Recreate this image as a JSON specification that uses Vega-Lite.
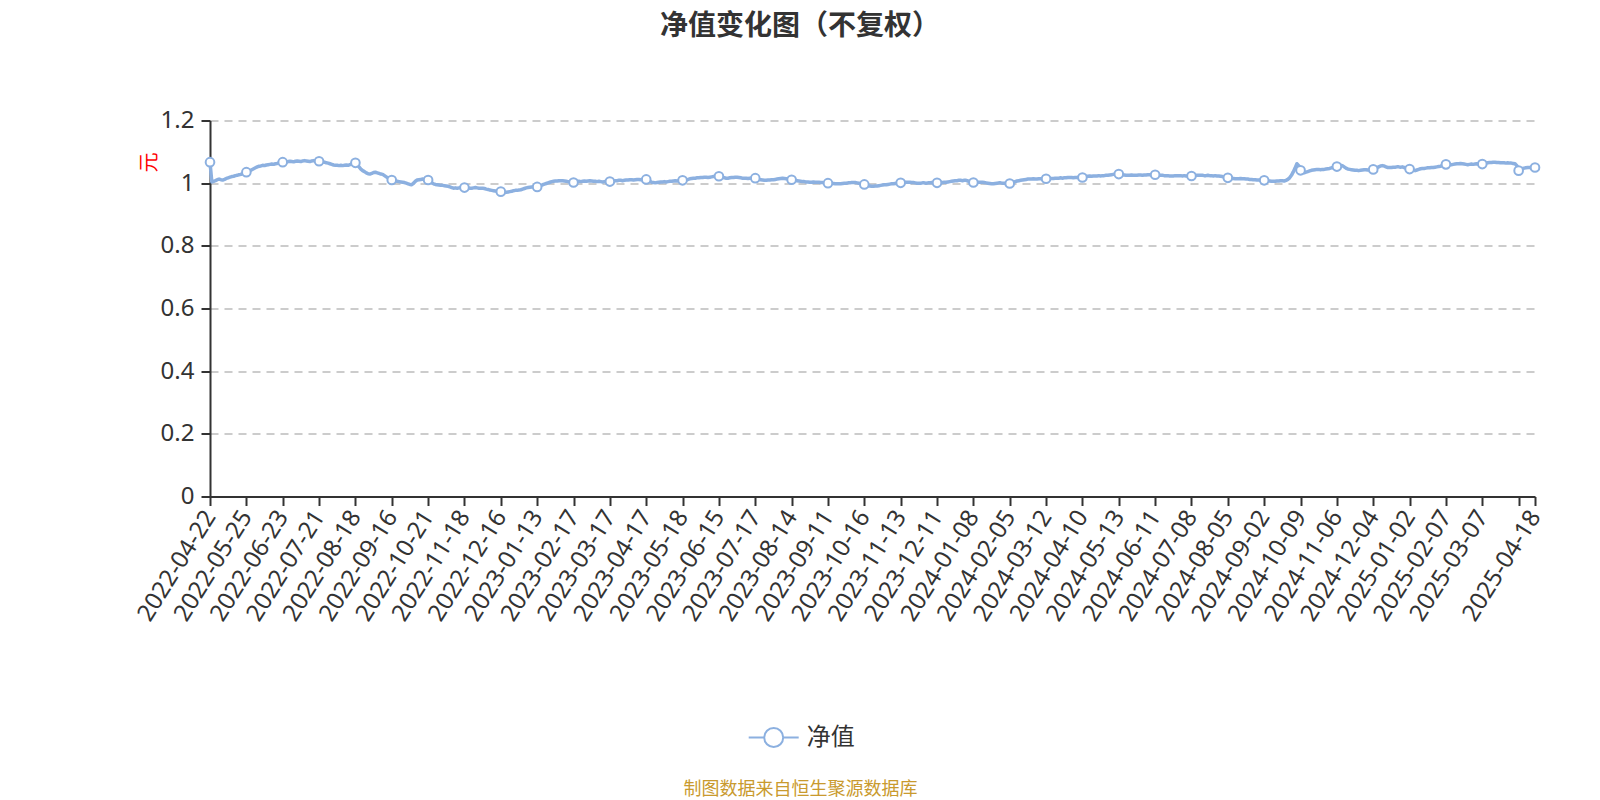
{
  "$schema": "https://vega.github.io/schema/vega-lite/v6.json",
  "autosize": {"type": "none"},
  "width": 1325,
  "height": 376,
  "padding": {"left": 210, "top": 120.5, "right": 65, "bottom": 303.5},
  "background": "#ffffff",
  "title": {
    "text": "净值变化图（不复权）",
    "frame": "group",
    "anchor": "middle",
    "dx": -72.5,
    "offset": 46,
    "baseline": "alphabetic",
    "font": "Noto Sans CJK SC",
    "fontSize": 28,
    "fontWeight": "bold",
    "color": "#333333"
  },
  "config": {
    "view": {"stroke": null},
    "font": "Noto Sans, Noto Sans CJK SC"
  },
  "data": {
    "values": [
      {"date":"2022-04-22","nav":1.067},{"date":"2022-04-25","nav":1.004},{"date":"2022-04-26","nav":1.006},{"date":"2022-04-27","nav":1.008},{"date":"2022-04-28","nav":1.011},{"date":"2022-04-29","nav":1.013},
      {"date":"2022-05-05","nav":1.011},{"date":"2022-05-06","nav":1.010},{"date":"2022-05-09","nav":1.012},{"date":"2022-05-10","nav":1.015},{"date":"2022-05-11","nav":1.017},{"date":"2022-05-12","nav":1.019},{"date":"2022-05-13","nav":1.021},{"date":"2022-05-16","nav":1.022},{"date":"2022-05-17","nav":1.024},{"date":"2022-05-18","nav":1.025},{"date":"2022-05-19","nav":1.027},{"date":"2022-05-20","nav":1.028},{"date":"2022-05-23","nav":1.031},{"date":"2022-05-24","nav":1.033},{"date":"2022-05-25","nav":1.035},{"date":"2022-05-26","nav":1.037},{"date":"2022-05-27","nav":1.040},{"date":"2022-05-30","nav":1.043},{"date":"2022-05-31","nav":1.046},
      {"date":"2022-06-01","nav":1.049},{"date":"2022-06-02","nav":1.052},{"date":"2022-06-06","nav":1.054},{"date":"2022-06-07","nav":1.055},{"date":"2022-06-08","nav":1.057},{"date":"2022-06-09","nav":1.056},{"date":"2022-06-10","nav":1.058},{"date":"2022-06-13","nav":1.059},{"date":"2022-06-14","nav":1.060},{"date":"2022-06-15","nav":1.061},{"date":"2022-06-16","nav":1.060},{"date":"2022-06-17","nav":1.062},{"date":"2022-06-20","nav":1.063},{"date":"2022-06-21","nav":1.065},{"date":"2022-06-22","nav":1.066},{"date":"2022-06-23","nav":1.067},{"date":"2022-06-24","nav":1.068},{"date":"2022-06-27","nav":1.067},{"date":"2022-06-28","nav":1.069},{"date":"2022-06-29","nav":1.070},{"date":"2022-06-30","nav":1.069},
      {"date":"2022-07-01","nav":1.068},{"date":"2022-07-04","nav":1.070},{"date":"2022-07-05","nav":1.071},{"date":"2022-07-06","nav":1.070},{"date":"2022-07-07","nav":1.069},{"date":"2022-07-08","nav":1.071},{"date":"2022-07-11","nav":1.072},{"date":"2022-07-12","nav":1.071},{"date":"2022-07-13","nav":1.070},{"date":"2022-07-14","nav":1.069},{"date":"2022-07-15","nav":1.071},{"date":"2022-07-18","nav":1.072},{"date":"2022-07-19","nav":1.071},{"date":"2022-07-20","nav":1.070},{"date":"2022-07-21","nav":1.070},{"date":"2022-07-22","nav":1.069},{"date":"2022-07-25","nav":1.068},{"date":"2022-07-26","nav":1.067},{"date":"2022-07-27","nav":1.065},{"date":"2022-07-28","nav":1.064},{"date":"2022-07-29","nav":1.062},
      {"date":"2022-08-01","nav":1.060},{"date":"2022-08-02","nav":1.058},{"date":"2022-08-03","nav":1.057},{"date":"2022-08-04","nav":1.057},{"date":"2022-08-05","nav":1.056},{"date":"2022-08-08","nav":1.057},{"date":"2022-08-09","nav":1.056},{"date":"2022-08-10","nav":1.057},{"date":"2022-08-11","nav":1.058},{"date":"2022-08-12","nav":1.057},{"date":"2022-08-15","nav":1.059},{"date":"2022-08-16","nav":1.061},{"date":"2022-08-17","nav":1.063},{"date":"2022-08-18","nav":1.065},{"date":"2022-08-19","nav":1.060},{"date":"2022-08-22","nav":1.052},{"date":"2022-08-23","nav":1.045},{"date":"2022-08-24","nav":1.040},{"date":"2022-08-25","nav":1.037},{"date":"2022-08-26","nav":1.033},{"date":"2022-08-29","nav":1.030},{"date":"2022-08-30","nav":1.029},{"date":"2022-08-31","nav":1.031},
      {"date":"2022-09-01","nav":1.034},{"date":"2022-09-02","nav":1.035},{"date":"2022-09-05","nav":1.033},{"date":"2022-09-06","nav":1.031},{"date":"2022-09-07","nav":1.029},{"date":"2022-09-08","nav":1.028},{"date":"2022-09-09","nav":1.024},{"date":"2022-09-13","nav":1.020},{"date":"2022-09-14","nav":1.016},{"date":"2022-09-15","nav":1.013},{"date":"2022-09-16","nav":1.010},{"date":"2022-09-19","nav":1.009},{"date":"2022-09-20","nav":1.007},{"date":"2022-09-21","nav":1.006},{"date":"2022-09-22","nav":1.005},{"date":"2022-09-23","nav":1.004},{"date":"2022-09-26","nav":1.003},{"date":"2022-09-27","nav":1.002},{"date":"2022-09-28","nav":1.000},{"date":"2022-09-29","nav":0.998},{"date":"2022-09-30","nav":0.996},
      {"date":"2022-10-10","nav":0.995},{"date":"2022-10-11","nav":1.000},{"date":"2022-10-12","nav":1.006},{"date":"2022-10-13","nav":1.010},{"date":"2022-10-14","nav":1.011},{"date":"2022-10-17","nav":1.012},{"date":"2022-10-18","nav":1.013},{"date":"2022-10-19","nav":1.012},{"date":"2022-10-20","nav":1.011},{"date":"2022-10-21","nav":1.010},{"date":"2022-10-24","nav":1.006},{"date":"2022-10-25","nav":1.001},{"date":"2022-10-26","nav":0.998},{"date":"2022-10-27","nav":0.996},{"date":"2022-10-28","nav":0.995},{"date":"2022-10-31","nav":0.994},
      {"date":"2022-11-01","nav":0.993},{"date":"2022-11-02","nav":0.993},{"date":"2022-11-03","nav":0.992},{"date":"2022-11-04","nav":0.991},{"date":"2022-11-07","nav":0.990},{"date":"2022-11-08","nav":0.988},{"date":"2022-11-09","nav":0.986},{"date":"2022-11-10","nav":0.984},{"date":"2022-11-11","nav":0.985},{"date":"2022-11-14","nav":0.984},{"date":"2022-11-15","nav":0.985},{"date":"2022-11-16","nav":0.986},{"date":"2022-11-17","nav":0.987},{"date":"2022-11-18","nav":0.986},{"date":"2022-11-21","nav":0.985},{"date":"2022-11-22","nav":0.985},{"date":"2022-11-23","nav":0.984},{"date":"2022-11-24","nav":0.984},{"date":"2022-11-25","nav":0.985},{"date":"2022-11-28","nav":0.986},{"date":"2022-11-29","nav":0.985},{"date":"2022-11-30","nav":0.984},
      {"date":"2022-12-01","nav":0.984},{"date":"2022-12-02","nav":0.984},{"date":"2022-12-05","nav":0.983},{"date":"2022-12-06","nav":0.981},{"date":"2022-12-07","nav":0.980},{"date":"2022-12-08","nav":0.978},{"date":"2022-12-09","nav":0.977},{"date":"2022-12-12","nav":0.976},{"date":"2022-12-13","nav":0.975},{"date":"2022-12-14","nav":0.974},{"date":"2022-12-15","nav":0.973},{"date":"2022-12-16","nav":0.973},{"date":"2022-12-19","nav":0.971},{"date":"2022-12-20","nav":0.970},{"date":"2022-12-21","nav":0.971},{"date":"2022-12-22","nav":0.972},{"date":"2022-12-23","nav":0.973},{"date":"2022-12-26","nav":0.974},{"date":"2022-12-27","nav":0.976},{"date":"2022-12-28","nav":0.977},{"date":"2022-12-29","nav":0.977},{"date":"2022-12-30","nav":0.978},{"date":"2022-12-31","nav":0.979},
      {"date":"2023-01-03","nav":0.981},{"date":"2023-01-04","nav":0.983},{"date":"2023-01-05","nav":0.985},{"date":"2023-01-06","nav":0.986},{"date":"2023-01-09","nav":0.987},{"date":"2023-01-10","nav":0.988},{"date":"2023-01-11","nav":0.989},{"date":"2023-01-12","nav":0.988},{"date":"2023-01-13","nav":0.988},{"date":"2023-01-16","nav":0.990},{"date":"2023-01-17","nav":0.992},{"date":"2023-01-18","nav":0.995},{"date":"2023-01-19","nav":0.997},{"date":"2023-01-20","nav":0.999},{"date":"2023-01-30","nav":1.001},{"date":"2023-01-31","nav":1.003},
      {"date":"2023-02-01","nav":1.005},{"date":"2023-02-02","nav":1.006},{"date":"2023-02-03","nav":1.007},{"date":"2023-02-06","nav":1.007},{"date":"2023-02-07","nav":1.008},{"date":"2023-02-08","nav":1.008},{"date":"2023-02-09","nav":1.008},{"date":"2023-02-10","nav":1.007},{"date":"2023-02-13","nav":1.006},{"date":"2023-02-14","nav":1.005},{"date":"2023-02-15","nav":1.004},{"date":"2023-02-16","nav":1.003},{"date":"2023-02-17","nav":1.002},{"date":"2023-02-20","nav":1.004},{"date":"2023-02-21","nav":1.006},{"date":"2023-02-22","nav":1.006},{"date":"2023-02-23","nav":1.005},{"date":"2023-02-24","nav":1.006},{"date":"2023-02-27","nav":1.007},{"date":"2023-02-28","nav":1.006},
      {"date":"2023-03-01","nav":1.007},{"date":"2023-03-02","nav":1.008},{"date":"2023-03-03","nav":1.007},{"date":"2023-03-06","nav":1.006},{"date":"2023-03-07","nav":1.006},{"date":"2023-03-08","nav":1.005},{"date":"2023-03-09","nav":1.006},{"date":"2023-03-10","nav":1.005},{"date":"2023-03-13","nav":1.004},{"date":"2023-03-14","nav":1.005},{"date":"2023-03-15","nav":1.006},{"date":"2023-03-16","nav":1.005},{"date":"2023-03-17","nav":1.005},{"date":"2023-03-20","nav":1.006},{"date":"2023-03-21","nav":1.007},{"date":"2023-03-22","nav":1.008},{"date":"2023-03-23","nav":1.008},{"date":"2023-03-24","nav":1.009},{"date":"2023-03-27","nav":1.009},{"date":"2023-03-28","nav":1.008},{"date":"2023-03-29","nav":1.009},{"date":"2023-03-30","nav":1.010},{"date":"2023-03-31","nav":1.010},
      {"date":"2023-04-03","nav":1.011},{"date":"2023-04-04","nav":1.011},{"date":"2023-04-06","nav":1.010},{"date":"2023-04-07","nav":1.011},{"date":"2023-04-10","nav":1.012},{"date":"2023-04-11","nav":1.012},{"date":"2023-04-12","nav":1.011},{"date":"2023-04-13","nav":1.012},{"date":"2023-04-14","nav":1.013},{"date":"2023-04-17","nav":1.012},{"date":"2023-04-18","nav":1.009},{"date":"2023-04-19","nav":1.006},{"date":"2023-04-20","nav":1.003},{"date":"2023-04-21","nav":1.002},{"date":"2023-04-24","nav":1.001},{"date":"2023-04-25","nav":1.002},{"date":"2023-04-26","nav":1.003},{"date":"2023-04-27","nav":1.004},{"date":"2023-04-28","nav":1.004},
      {"date":"2023-05-04","nav":1.005},{"date":"2023-05-05","nav":1.004},{"date":"2023-05-08","nav":1.005},{"date":"2023-05-09","nav":1.006},{"date":"2023-05-10","nav":1.006},{"date":"2023-05-11","nav":1.007},{"date":"2023-05-12","nav":1.008},{"date":"2023-05-15","nav":1.007},{"date":"2023-05-16","nav":1.008},{"date":"2023-05-17","nav":1.009},{"date":"2023-05-18","nav":1.009},{"date":"2023-05-19","nav":1.010},{"date":"2023-05-22","nav":1.011},{"date":"2023-05-23","nav":1.012},{"date":"2023-05-24","nav":1.014},{"date":"2023-05-25","nav":1.015},{"date":"2023-05-26","nav":1.016},{"date":"2023-05-29","nav":1.016},{"date":"2023-05-30","nav":1.017},{"date":"2023-05-31","nav":1.017},
      {"date":"2023-06-01","nav":1.018},{"date":"2023-06-02","nav":1.018},{"date":"2023-06-05","nav":1.019},{"date":"2023-06-06","nav":1.019},{"date":"2023-06-07","nav":1.018},{"date":"2023-06-08","nav":1.019},{"date":"2023-06-09","nav":1.020},{"date":"2023-06-12","nav":1.021},{"date":"2023-06-13","nav":1.021},{"date":"2023-06-14","nav":1.022},{"date":"2023-06-15","nav":1.022},{"date":"2023-06-16","nav":1.020},{"date":"2023-06-19","nav":1.018},{"date":"2023-06-20","nav":1.017},{"date":"2023-06-21","nav":1.016},{"date":"2023-06-26","nav":1.016},{"date":"2023-06-27","nav":1.017},{"date":"2023-06-28","nav":1.018},{"date":"2023-06-29","nav":1.018},{"date":"2023-06-30","nav":1.019},
      {"date":"2023-07-03","nav":1.019},{"date":"2023-07-04","nav":1.018},{"date":"2023-07-05","nav":1.017},{"date":"2023-07-06","nav":1.016},{"date":"2023-07-07","nav":1.016},{"date":"2023-07-10","nav":1.016},{"date":"2023-07-11","nav":1.015},{"date":"2023-07-12","nav":1.016},{"date":"2023-07-13","nav":1.016},{"date":"2023-07-14","nav":1.017},{"date":"2023-07-17","nav":1.016},{"date":"2023-07-18","nav":1.014},{"date":"2023-07-19","nav":1.012},{"date":"2023-07-20","nav":1.011},{"date":"2023-07-21","nav":1.010},{"date":"2023-07-24","nav":1.009},{"date":"2023-07-25","nav":1.009},{"date":"2023-07-26","nav":1.010},{"date":"2023-07-27","nav":1.010},{"date":"2023-07-28","nav":1.011},{"date":"2023-07-31","nav":1.011},
      {"date":"2023-08-01","nav":1.012},{"date":"2023-08-02","nav":1.013},{"date":"2023-08-03","nav":1.014},{"date":"2023-08-04","nav":1.015},{"date":"2023-08-07","nav":1.016},{"date":"2023-08-08","nav":1.015},{"date":"2023-08-09","nav":1.014},{"date":"2023-08-10","nav":1.013},{"date":"2023-08-11","nav":1.012},{"date":"2023-08-14","nav":1.011},{"date":"2023-08-15","nav":1.010},{"date":"2023-08-16","nav":1.009},{"date":"2023-08-17","nav":1.008},{"date":"2023-08-18","nav":1.007},{"date":"2023-08-21","nav":1.006},{"date":"2023-08-22","nav":1.005},{"date":"2023-08-23","nav":1.005},{"date":"2023-08-24","nav":1.004},{"date":"2023-08-25","nav":1.004},{"date":"2023-08-28","nav":1.003},{"date":"2023-08-29","nav":1.003},{"date":"2023-08-30","nav":1.004},{"date":"2023-08-31","nav":1.003},
      {"date":"2023-09-01","nav":1.003},{"date":"2023-09-04","nav":1.003},{"date":"2023-09-05","nav":1.002},{"date":"2023-09-06","nav":1.002},{"date":"2023-09-07","nav":1.001},{"date":"2023-09-08","nav":1.001},{"date":"2023-09-11","nav":1.000},{"date":"2023-09-12","nav":1.000},{"date":"2023-09-13","nav":0.999},{"date":"2023-09-14","nav":0.999},{"date":"2023-09-15","nav":0.998},{"date":"2023-09-18","nav":0.998},{"date":"2023-09-19","nav":0.998},{"date":"2023-09-20","nav":0.998},{"date":"2023-09-21","nav":0.999},{"date":"2023-09-22","nav":1.000},{"date":"2023-09-25","nav":1.000},{"date":"2023-09-26","nav":1.001},{"date":"2023-09-27","nav":1.001},{"date":"2023-09-28","nav":1.002},{"date":"2023-09-30","nav":1.002},
      {"date":"2023-10-09","nav":1.002},{"date":"2023-10-10","nav":1.001},{"date":"2023-10-11","nav":1.000},{"date":"2023-10-12","nav":0.998},{"date":"2023-10-13","nav":0.997},{"date":"2023-10-16","nav":0.996},{"date":"2023-10-17","nav":0.994},{"date":"2023-10-18","nav":0.992},{"date":"2023-10-19","nav":0.991},{"date":"2023-10-20","nav":0.990},{"date":"2023-10-23","nav":0.990},{"date":"2023-10-24","nav":0.991},{"date":"2023-10-25","nav":0.991},{"date":"2023-10-26","nav":0.992},{"date":"2023-10-27","nav":0.993},{"date":"2023-10-30","nav":0.994},{"date":"2023-10-31","nav":0.995},
      {"date":"2023-11-01","nav":0.995},{"date":"2023-11-02","nav":0.996},{"date":"2023-11-03","nav":0.997},{"date":"2023-11-06","nav":0.998},{"date":"2023-11-07","nav":0.998},{"date":"2023-11-08","nav":0.999},{"date":"2023-11-09","nav":1.000},{"date":"2023-11-10","nav":1.000},{"date":"2023-11-13","nav":1.001},{"date":"2023-11-14","nav":1.002},{"date":"2023-11-15","nav":1.002},{"date":"2023-11-16","nav":1.003},{"date":"2023-11-17","nav":1.003},{"date":"2023-11-20","nav":1.003},{"date":"2023-11-21","nav":1.002},{"date":"2023-11-22","nav":1.002},{"date":"2023-11-23","nav":1.001},{"date":"2023-11-24","nav":1.000},{"date":"2023-11-27","nav":1.000},{"date":"2023-11-28","nav":1.000},{"date":"2023-11-29","nav":1.001},{"date":"2023-11-30","nav":1.001},
      {"date":"2023-12-01","nav":1.000},{"date":"2023-12-04","nav":1.001},{"date":"2023-12-05","nav":1.001},{"date":"2023-12-06","nav":1.002},{"date":"2023-12-07","nav":1.001},{"date":"2023-12-08","nav":1.001},{"date":"2023-12-11","nav":1.001},{"date":"2023-12-12","nav":1.001},{"date":"2023-12-13","nav":1.002},{"date":"2023-12-14","nav":1.002},{"date":"2023-12-15","nav":1.003},{"date":"2023-12-18","nav":1.003},{"date":"2023-12-19","nav":1.004},{"date":"2023-12-20","nav":1.005},{"date":"2023-12-21","nav":1.006},{"date":"2023-12-22","nav":1.007},{"date":"2023-12-25","nav":1.008},{"date":"2023-12-26","nav":1.008},{"date":"2023-12-27","nav":1.009},{"date":"2023-12-28","nav":1.009},{"date":"2023-12-29","nav":1.008},{"date":"2023-12-31","nav":1.009},
      {"date":"2024-01-02","nav":1.009},{"date":"2024-01-03","nav":1.007},{"date":"2024-01-04","nav":1.005},{"date":"2024-01-05","nav":1.003},{"date":"2024-01-08","nav":1.002},{"date":"2024-01-09","nav":1.002},{"date":"2024-01-10","nav":1.003},{"date":"2024-01-11","nav":1.003},{"date":"2024-01-12","nav":1.003},{"date":"2024-01-15","nav":1.003},{"date":"2024-01-16","nav":1.002},{"date":"2024-01-17","nav":1.001},{"date":"2024-01-18","nav":1.000},{"date":"2024-01-19","nav":0.999},{"date":"2024-01-22","nav":0.998},{"date":"2024-01-23","nav":0.998},{"date":"2024-01-24","nav":0.999},{"date":"2024-01-25","nav":1.000},{"date":"2024-01-26","nav":1.001},{"date":"2024-01-29","nav":1.001},{"date":"2024-01-30","nav":1.000},{"date":"2024-01-31","nav":1.000},
      {"date":"2024-02-01","nav":0.999},{"date":"2024-02-02","nav":0.999},{"date":"2024-02-05","nav":0.999},{"date":"2024-02-06","nav":1.001},{"date":"2024-02-07","nav":1.003},{"date":"2024-02-08","nav":1.005},{"date":"2024-02-19","nav":1.007},{"date":"2024-02-20","nav":1.008},{"date":"2024-02-21","nav":1.009},{"date":"2024-02-22","nav":1.010},{"date":"2024-02-23","nav":1.011},{"date":"2024-02-26","nav":1.012},{"date":"2024-02-27","nav":1.013},{"date":"2024-02-28","nav":1.013},{"date":"2024-02-29","nav":1.013},
      {"date":"2024-03-01","nav":1.014},{"date":"2024-03-04","nav":1.013},{"date":"2024-03-05","nav":1.013},{"date":"2024-03-06","nav":1.014},{"date":"2024-03-07","nav":1.014},{"date":"2024-03-08","nav":1.013},{"date":"2024-03-11","nav":1.014},{"date":"2024-03-12","nav":1.014},{"date":"2024-03-13","nav":1.014},{"date":"2024-03-14","nav":1.015},{"date":"2024-03-15","nav":1.015},{"date":"2024-03-18","nav":1.015},{"date":"2024-03-19","nav":1.016},{"date":"2024-03-20","nav":1.016},{"date":"2024-03-21","nav":1.016},{"date":"2024-03-22","nav":1.017},{"date":"2024-03-25","nav":1.016},{"date":"2024-03-26","nav":1.017},{"date":"2024-03-27","nav":1.017},{"date":"2024-03-28","nav":1.018},{"date":"2024-03-29","nav":1.018},{"date":"2024-03-31","nav":1.018},
      {"date":"2024-04-01","nav":1.017},{"date":"2024-04-02","nav":1.018},{"date":"2024-04-03","nav":1.018},{"date":"2024-04-08","nav":1.019},{"date":"2024-04-09","nav":1.018},{"date":"2024-04-10","nav":1.018},{"date":"2024-04-11","nav":1.019},{"date":"2024-04-12","nav":1.021},{"date":"2024-04-15","nav":1.022},{"date":"2024-04-16","nav":1.023},{"date":"2024-04-17","nav":1.022},{"date":"2024-04-18","nav":1.023},{"date":"2024-04-19","nav":1.023},{"date":"2024-04-22","nav":1.023},{"date":"2024-04-23","nav":1.024},{"date":"2024-04-24","nav":1.023},{"date":"2024-04-25","nav":1.024},{"date":"2024-04-26","nav":1.024},{"date":"2024-04-29","nav":1.025},{"date":"2024-04-30","nav":1.025},
      {"date":"2024-05-06","nav":1.026},{"date":"2024-05-07","nav":1.027},{"date":"2024-05-08","nav":1.028},{"date":"2024-05-09","nav":1.029},{"date":"2024-05-10","nav":1.029},{"date":"2024-05-13","nav":1.029},{"date":"2024-05-14","nav":1.028},{"date":"2024-05-15","nav":1.027},{"date":"2024-05-16","nav":1.026},{"date":"2024-05-17","nav":1.025},{"date":"2024-05-20","nav":1.025},{"date":"2024-05-21","nav":1.025},{"date":"2024-05-22","nav":1.026},{"date":"2024-05-23","nav":1.025},{"date":"2024-05-24","nav":1.025},{"date":"2024-05-27","nav":1.025},{"date":"2024-05-28","nav":1.026},{"date":"2024-05-29","nav":1.026},{"date":"2024-05-30","nav":1.025},{"date":"2024-05-31","nav":1.026},
      {"date":"2024-06-03","nav":1.026},{"date":"2024-06-04","nav":1.027},{"date":"2024-06-05","nav":1.027},{"date":"2024-06-06","nav":1.026},{"date":"2024-06-07","nav":1.027},{"date":"2024-06-11","nav":1.027},{"date":"2024-06-12","nav":1.026},{"date":"2024-06-13","nav":1.025},{"date":"2024-06-14","nav":1.025},{"date":"2024-06-17","nav":1.025},{"date":"2024-06-18","nav":1.024},{"date":"2024-06-19","nav":1.024},{"date":"2024-06-20","nav":1.024},{"date":"2024-06-21","nav":1.023},{"date":"2024-06-24","nav":1.023},{"date":"2024-06-25","nav":1.023},{"date":"2024-06-26","nav":1.024},{"date":"2024-06-27","nav":1.024},{"date":"2024-06-28","nav":1.024},{"date":"2024-06-30","nav":1.024},
      {"date":"2024-07-01","nav":1.023},{"date":"2024-07-02","nav":1.024},{"date":"2024-07-03","nav":1.023},{"date":"2024-07-04","nav":1.023},{"date":"2024-07-05","nav":1.023},{"date":"2024-07-08","nav":1.023},{"date":"2024-07-09","nav":1.024},{"date":"2024-07-10","nav":1.024},{"date":"2024-07-11","nav":1.025},{"date":"2024-07-12","nav":1.025},{"date":"2024-07-15","nav":1.025},{"date":"2024-07-16","nav":1.025},{"date":"2024-07-17","nav":1.024},{"date":"2024-07-18","nav":1.024},{"date":"2024-07-19","nav":1.025},{"date":"2024-07-22","nav":1.024},{"date":"2024-07-23","nav":1.024},{"date":"2024-07-24","nav":1.023},{"date":"2024-07-25","nav":1.024},{"date":"2024-07-26","nav":1.023},{"date":"2024-07-29","nav":1.023},{"date":"2024-07-30","nav":1.022},{"date":"2024-07-31","nav":1.021},
      {"date":"2024-08-01","nav":1.019},{"date":"2024-08-02","nav":1.018},{"date":"2024-08-05","nav":1.017},{"date":"2024-08-06","nav":1.016},{"date":"2024-08-07","nav":1.015},{"date":"2024-08-08","nav":1.015},{"date":"2024-08-09","nav":1.014},{"date":"2024-08-12","nav":1.014},{"date":"2024-08-13","nav":1.014},{"date":"2024-08-14","nav":1.015},{"date":"2024-08-15","nav":1.014},{"date":"2024-08-16","nav":1.014},{"date":"2024-08-19","nav":1.013},{"date":"2024-08-20","nav":1.013},{"date":"2024-08-21","nav":1.012},{"date":"2024-08-22","nav":1.012},{"date":"2024-08-23","nav":1.011},{"date":"2024-08-26","nav":1.011},{"date":"2024-08-27","nav":1.010},{"date":"2024-08-28","nav":1.010},{"date":"2024-08-29","nav":1.009},{"date":"2024-08-30","nav":1.009},
      {"date":"2024-09-02","nav":1.009},{"date":"2024-09-03","nav":1.008},{"date":"2024-09-04","nav":1.007},{"date":"2024-09-05","nav":1.007},{"date":"2024-09-06","nav":1.006},{"date":"2024-09-09","nav":1.006},{"date":"2024-09-10","nav":1.006},{"date":"2024-09-11","nav":1.007},{"date":"2024-09-12","nav":1.007},{"date":"2024-09-13","nav":1.008},{"date":"2024-09-18","nav":1.008},{"date":"2024-09-19","nav":1.007},{"date":"2024-09-20","nav":1.009},{"date":"2024-09-23","nav":1.012},{"date":"2024-09-24","nav":1.017},{"date":"2024-09-25","nav":1.025},{"date":"2024-09-26","nav":1.036},{"date":"2024-09-27","nav":1.048},{"date":"2024-09-30","nav":1.062},
      {"date":"2024-10-08","nav":1.056},{"date":"2024-10-09","nav":1.041},{"date":"2024-10-10","nav":1.036},{"date":"2024-10-11","nav":1.033},{"date":"2024-10-14","nav":1.035},{"date":"2024-10-15","nav":1.037},{"date":"2024-10-16","nav":1.039},{"date":"2024-10-17","nav":1.041},{"date":"2024-10-18","nav":1.042},{"date":"2024-10-21","nav":1.043},{"date":"2024-10-22","nav":1.044},{"date":"2024-10-23","nav":1.044},{"date":"2024-10-24","nav":1.043},{"date":"2024-10-25","nav":1.044},{"date":"2024-10-28","nav":1.044},{"date":"2024-10-29","nav":1.045},{"date":"2024-10-30","nav":1.046},{"date":"2024-10-31","nav":1.047},
      {"date":"2024-11-01","nav":1.049},{"date":"2024-11-04","nav":1.050},{"date":"2024-11-05","nav":1.052},{"date":"2024-11-06","nav":1.053},{"date":"2024-11-07","nav":1.055},{"date":"2024-11-08","nav":1.057},{"date":"2024-11-11","nav":1.056},{"date":"2024-11-12","nav":1.052},{"date":"2024-11-13","nav":1.048},{"date":"2024-11-14","nav":1.045},{"date":"2024-11-15","nav":1.044},{"date":"2024-11-18","nav":1.043},{"date":"2024-11-19","nav":1.042},{"date":"2024-11-20","nav":1.041},{"date":"2024-11-21","nav":1.041},{"date":"2024-11-22","nav":1.040},{"date":"2024-11-25","nav":1.041},{"date":"2024-11-26","nav":1.042},{"date":"2024-11-27","nav":1.043},{"date":"2024-11-28","nav":1.043},{"date":"2024-11-29","nav":1.042},
      {"date":"2024-12-02","nav":1.043},{"date":"2024-12-03","nav":1.044},{"date":"2024-12-04","nav":1.044},{"date":"2024-12-05","nav":1.046},{"date":"2024-12-06","nav":1.049},{"date":"2024-12-09","nav":1.052},{"date":"2024-12-10","nav":1.055},{"date":"2024-12-11","nav":1.056},{"date":"2024-12-12","nav":1.055},{"date":"2024-12-13","nav":1.052},{"date":"2024-12-16","nav":1.050},{"date":"2024-12-17","nav":1.050},{"date":"2024-12-18","nav":1.050},{"date":"2024-12-19","nav":1.051},{"date":"2024-12-20","nav":1.051},{"date":"2024-12-23","nav":1.052},{"date":"2024-12-24","nav":1.052},{"date":"2024-12-25","nav":1.051},{"date":"2024-12-26","nav":1.052},{"date":"2024-12-27","nav":1.050},{"date":"2024-12-30","nav":1.048},{"date":"2024-12-31","nav":1.046},
      {"date":"2025-01-02","nav":1.045},{"date":"2025-01-03","nav":1.043},{"date":"2025-01-06","nav":1.041},{"date":"2025-01-07","nav":1.040},{"date":"2025-01-08","nav":1.042},{"date":"2025-01-09","nav":1.044},{"date":"2025-01-10","nav":1.046},{"date":"2025-01-13","nav":1.047},{"date":"2025-01-14","nav":1.047},{"date":"2025-01-15","nav":1.048},{"date":"2025-01-16","nav":1.049},{"date":"2025-01-17","nav":1.049},{"date":"2025-01-20","nav":1.050},{"date":"2025-01-21","nav":1.050},{"date":"2025-01-22","nav":1.051},{"date":"2025-01-23","nav":1.052},{"date":"2025-01-24","nav":1.053},{"date":"2025-01-27","nav":1.054},
      {"date":"2025-02-05","nav":1.056},{"date":"2025-02-06","nav":1.058},{"date":"2025-02-07","nav":1.060},{"date":"2025-02-10","nav":1.060},{"date":"2025-02-11","nav":1.059},{"date":"2025-02-12","nav":1.059},{"date":"2025-02-13","nav":1.060},{"date":"2025-02-14","nav":1.061},{"date":"2025-02-17","nav":1.062},{"date":"2025-02-18","nav":1.062},{"date":"2025-02-19","nav":1.063},{"date":"2025-02-20","nav":1.062},{"date":"2025-02-21","nav":1.061},{"date":"2025-02-24","nav":1.060},{"date":"2025-02-25","nav":1.059},{"date":"2025-02-26","nav":1.060},{"date":"2025-02-27","nav":1.061},{"date":"2025-02-28","nav":1.060},
      {"date":"2025-03-03","nav":1.061},{"date":"2025-03-04","nav":1.062},{"date":"2025-03-05","nav":1.061},{"date":"2025-03-06","nav":1.061},{"date":"2025-03-07","nav":1.061},{"date":"2025-03-10","nav":1.062},{"date":"2025-03-11","nav":1.064},{"date":"2025-03-12","nav":1.065},{"date":"2025-03-13","nav":1.066},{"date":"2025-03-14","nav":1.066},{"date":"2025-03-17","nav":1.067},{"date":"2025-03-18","nav":1.067},{"date":"2025-03-19","nav":1.066},{"date":"2025-03-20","nav":1.066},{"date":"2025-03-21","nav":1.065},{"date":"2025-03-24","nav":1.065},{"date":"2025-03-25","nav":1.065},{"date":"2025-03-26","nav":1.064},{"date":"2025-03-27","nav":1.065},{"date":"2025-03-28","nav":1.064},{"date":"2025-03-31","nav":1.064},
      {"date":"2025-04-01","nav":1.063},{"date":"2025-04-02","nav":1.062},{"date":"2025-04-03","nav":1.056},{"date":"2025-04-07","nav":1.040},{"date":"2025-04-08","nav":1.044},{"date":"2025-04-09","nav":1.046},{"date":"2025-04-10","nav":1.048},{"date":"2025-04-11","nav":1.049},{"date":"2025-04-14","nav":1.050},{"date":"2025-04-15","nav":1.050},{"date":"2025-04-16","nav":1.049},{"date":"2025-04-17","nav":1.050},{"date":"2025-04-18","nav":1.050}
    ]
  },
  "encoding": {
    "x": {
      "field": "date",
      "type": "ordinal",
      "scale": {"type": "point", "padding": 0},
      "axis": {
        "title": "制图数据来自恒生聚源数据库",
        "titleFont": "Noto Sans CJK SC",
        "titleFontSize": 18,
        "titleFontWeight": "normal",
        "titleColor": "#c99a2e",
        "titleAlign": "center",
        "titleBaseline": "middle",
        "titleX": 590,
        "titleY": 292.5,
        "values": ["2022-04-22","2022-05-25","2022-06-23","2022-07-21","2022-08-18","2022-09-16","2022-10-21","2022-11-18","2022-12-16","2023-01-13","2023-02-17","2023-03-17","2023-04-17","2023-05-18","2023-06-15","2023-07-17","2023-08-14","2023-09-11","2023-10-16","2023-11-13","2023-12-11","2024-01-08","2024-02-05","2024-03-12","2024-04-10","2024-05-13","2024-06-11","2024-07-08","2024-08-05","2024-09-02","2024-10-09","2024-11-06","2024-12-04","2025-01-02","2025-02-07","2025-03-07","2025-04-07","2025-04-18"],
        "labelExpr": "datum.value == '2025-04-07' ? '' : datum.label",
        "labelAngle": -58,
        "labelAlign": "right",
        "labelBaseline": "middle",
        "labelFontSize": 24,
        "labelColor": "#333333",
        "labelOverlap": false,
        "labelPadding": 7,
        "tickSize": 9,
        "tickWidth": 2,
        "tickColor": "#333333",
        "domainColor": "#333333",
        "domainWidth": 2,
        "grid": false
      }
    },
    "y": {
      "field": "nav",
      "type": "quantitative",
      "scale": {"domain": [0, 1.2], "nice": false},
      "axis": {
        "title": "元",
        "titleFont": "Noto Sans CJK SC",
        "titleFontSize": 20,
        "titleFontWeight": "normal",
        "titleColor": "#ff0000",
        "titleAngle": -90,
        "titleAlign": "center",
        "titleBaseline": "middle",
        "titleX": -61,
        "titleY": 41.5,
        "values": [0, 0.2, 0.4, 0.6, 0.8, 1, 1.2],
        "format": ".1~f",
        "labelFontSize": 24,
        "labelColor": "#333333",
        "labelPadding": 7,
        "tickSize": 9,
        "tickWidth": 2,
        "tickColor": "#333333",
        "domainColor": "#333333",
        "domainWidth": 2,
        "grid": true,
        "gridColor": "#cccccc",
        "gridWidth": 2,
        "gridDash": [8, 6]
      }
    }
  },
  "layer": [
    {
      "mark": {"type": "line", "strokeWidth": 3.5, "strokeJoin": "round"},
      "encoding": {
        "color": {
          "datum": "净值",
          "scale": {"range": ["#8cb0e0"]},
          "legend": {
            "title": null,
            "orient": "none",
            "legendX": 551.7,
            "legendY": 605,
            "padding": 0,
            "symbolType": "M-2.5,0H-0.95M0.95,0H2.5M-0.95,0A0.95,0.95,0,1,0,0.95,0A0.95,0.95,0,1,0,-0.95,0Z",
            "symbolSize": 400,
            "symbolStrokeWidth": 2,
            "symbolFillColor": "#ffffff",
            "labelFont": "Noto Sans CJK SC",
            "labelFontSize": 24,
            "labelColor": "#333333",
            "labelOffset": 21
          }
        }
      }
    },
    {
      "transform": [
        {"filter": {"field": "date", "oneOf": ["2022-04-22","2022-05-25","2022-06-23","2022-07-21","2022-08-18","2022-09-16","2022-10-21","2022-11-18","2022-12-16","2023-01-13","2023-02-17","2023-03-17","2023-04-17","2023-05-18","2023-06-15","2023-07-17","2023-08-14","2023-09-11","2023-10-16","2023-11-13","2023-12-11","2024-01-08","2024-02-05","2024-03-12","2024-04-10","2024-05-13","2024-06-11","2024-07-08","2024-08-05","2024-09-02","2024-10-09","2024-11-06","2024-12-04","2025-01-02","2025-02-07","2025-03-07","2025-04-07","2025-04-18"]}}
      ],
      "mark": {"type": "point", "shape": "circle", "filled": true, "fill": "#ffffff", "stroke": "#8cb0e0", "strokeWidth": 2, "size": 75, "opacity": 1}
    }
  ]
}
